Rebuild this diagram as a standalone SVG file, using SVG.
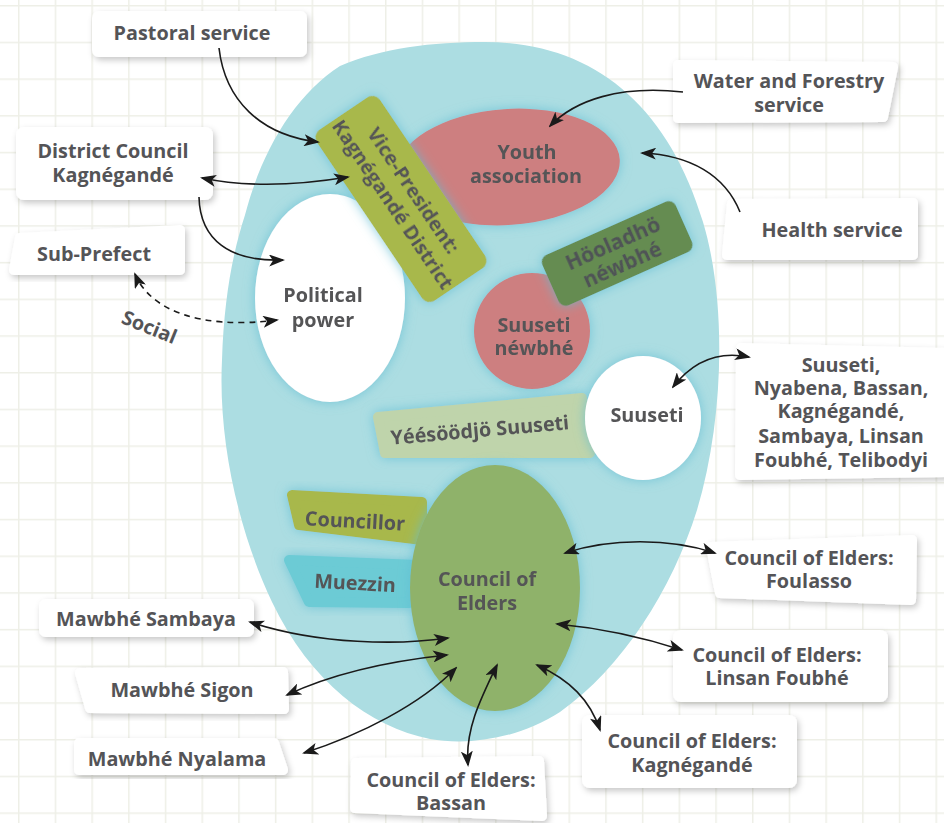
<svg xmlns="http://www.w3.org/2000/svg" width="944" height="823" viewBox="0 0 944 823">
<defs>
<pattern id="grid" patternUnits="userSpaceOnUse" x="18" y="5" width="36.7" height="36.7">
<path d="M0,0 V36.7 M0,0 H36.7" fill="none" stroke="#eeefe7" stroke-width="3"/>
</pattern>
<filter id="sh" x="-20%" y="-30%" width="140%" height="160%">
<feDropShadow dx="2" dy="3" stdDeviation="3" flood-color="#000" flood-opacity="0.22"/>
</filter>
<filter id="glow" x="-30%" y="-30%" width="160%" height="160%">
<feDropShadow dx="0" dy="0" stdDeviation="6" flood-color="#5fbdd3" flood-opacity="0.75"/>
</filter>
<marker id="ah" viewBox="0 0 16 12" refX="14" refY="6" markerWidth="16" markerHeight="12" markerUnits="userSpaceOnUse" orient="auto-start-reverse">
<path d="M0,0 L16,6 L0,12 L4,6 Z" fill="#1a1a1a"/>
</marker>
<style>
text{font-family:"Open Sans","DejaVu Sans",sans-serif;font-weight:700;font-size:19.8px;fill:#545457;text-anchor:middle}
.box{fill:#fff;stroke:#fff;stroke-width:10;stroke-linejoin:round;filter:url(#sh)}
.rbox{fill:#fff;filter:url(#sh)}
.in{filter:url(#glow)}
.c{fill:none;stroke:#1a1a1a;stroke-width:1.6}
.dash{stroke-dasharray:6 5}
</style>
</defs>
<rect width="944" height="823" fill="#fff"/>
<rect width="944" height="823" fill="url(#grid)"/>

<g id="blob">
<path d="M485,42 C590,42 667,102 703,222 C727,302 724,420 697,510 C672,590 622,668 560,712 C520,738 470,746 430,739 C370,727 310,682 272,602 C238,530 218,440 222,360 C224,300 232,255 245,215 C262,150 295,95 340,66 C382,48 432,42 485,42 Z" fill="#acdde2"/>
</g>

<g id="political-power" class="in">
<ellipse cx="330" cy="298" rx="75" ry="104" fill="#fff"/>
<text x="323" y="302">Political</text>
<text x="323" y="327">power</text>
</g>

<g id="youth-association" class="in">
<ellipse cx="508" cy="167" rx="112" ry="58" transform="rotate(-4 508 167)" fill="#cd7f80"/>
<text x="527" y="159">Youth</text>
<text x="526" y="183">association</text>
</g>

<g id="vice-president" class="in" transform="translate(401,199) rotate(56)">
<rect x="-103" y="-38" width="206" height="76" rx="9" fill="#a8b84c"/>
<text x="0" y="-8">Vice-President:</text>
<text x="0" y="17">Kagnégandé District</text>
</g>

<g id="suuseti-newbhe" class="in">
<circle cx="532" cy="331" r="58" fill="#cd7f80"/>
<text x="534" y="332">Suuseti</text>
<text x="534" y="355">néwbhé</text>
</g>

<g id="hooladho-newbhe" class="in" transform="translate(617,253) rotate(-24)">
<rect x="-73" y="-27" width="146" height="55" rx="8" fill="#658c51"/>
<text x="0" y="-3" style="font-size:21px;fill:#4f5256">Höoladhö</text>
<text x="0" y="20" style="font-size:21px;fill:#4f5256">néwbhé</text>
</g>

<g id="yeesoodjo-suuseti" class="in">
<polygon points="378,417 582,398 590,453 385,453" fill="#bfd4ab" stroke="#bfd4ab" stroke-width="10" stroke-linejoin="round"/>
<text x="480" y="437" transform="rotate(-5 480 432)">Yéésöödjö Suuseti</text>
</g>

<g id="suuseti" class="in">
<ellipse cx="643" cy="418" rx="58" ry="62" fill="#fff"/>
<text x="647" y="422">Suuseti</text>
</g>

<g id="councillor" class="in">
<polygon points="292,495 422,502 422,540 299,525" fill="#a8b84c" stroke="#a8b84c" stroke-width="10" stroke-linejoin="round"/>
<text x="355" y="528" transform="rotate(3 355 522)">Councillor</text>
</g>

<g id="muezzin" class="in">
<polygon points="289,560 418,565 409,603 309,602" fill="#6ccbd5" stroke="#6ccbd5" stroke-width="10" stroke-linejoin="round"/>
<text x="355" y="590" transform="rotate(3 355 584)">Muezzin</text>
</g>

<g id="council-of-elders" class="in">
<ellipse cx="495" cy="588" rx="85" ry="123" fill="#8fb26a"/>
<text x="487" y="586">Council of</text>
<text x="487" y="610">Elders</text>
</g>

<g id="pastoral-service">
<rect class="rbox" x="92" y="11" width="215" height="46" rx="7"/>
<text x="192" y="40">Pastoral service</text>
</g>
<g id="district-council">
<rect class="rbox" x="16" y="127" width="197" height="73" rx="8"/>
<text x="113" y="158">District Council</text>
<text x="113" y="182">Kagnégandé</text>
</g>
<g id="sub-prefect">
<polygon class="box" points="20,238 180,230 180,270 14,270"/>
<text x="94" y="261">Sub-Prefect</text>
</g>
<g id="water-forestry">
<polygon class="box" points="678,65 893,67 883,117 678,118"/>
<text x="789" y="88">Water and Forestry</text>
<text x="789" y="112">service</text>
</g>
<g id="health-service">
<polygon class="box" points="732,204 913,203 913,255 727,255"/>
<text x="832" y="237">Health service</text>
</g>
<g id="suuseti-list">
<polygon class="box" points="741,348 945,353 945,472 740,475"/>
<text x="841" y="372">Suuseti,</text>
<text x="841" y="395">Nyabena, Bassan,</text>
<text x="841" y="418">Kagnégandé,</text>
<text x="841" y="443">Sambaya, Linsan</text>
<text x="841" y="467">Foubhé, Telibodyi</text>
</g>
<g id="elders-foulasso">
<polygon class="box" points="711,547 912,540 911,600 720,593"/>
<text x="809" y="565">Council of Elders:</text>
<text x="809" y="588">Foulasso</text>
</g>
<g id="elders-linsan">
<rect class="rbox" x="673" y="630" width="215" height="72" rx="8"/>
<text x="777" y="662">Council of Elders:</text>
<text x="777" y="685">Linsan Foubhé</text>
</g>
<g id="elders-kagnegande">
<rect class="rbox" x="582" y="715" width="215" height="73" rx="8"/>
<text x="692" y="748">Council of Elders:</text>
<text x="692" y="772">Kagnégandé</text>
</g>
<g id="elders-bassan">
<polygon class="box" points="356,763 539,761 542,816 355,808"/>
<text x="451" y="787">Council of Elders:</text>
<text x="451" y="810">Bassan</text>
</g>
<g id="mawbhe-sambaya">
<rect class="rbox" x="39" y="599" width="215" height="38" rx="7"/>
<text x="146" y="626">Mawbhé Sambaya</text>
</g>
<g id="mawbhe-sigon">
<polygon class="box" points="80,673 283,672 284,709 90,708"/>
<text x="182" y="697">Mawbhé Sigon</text>
</g>
<g id="mawbhe-nyalama">
<polygon class="box" points="79,743 274,743 283,770 79,770"/>
<text x="177" y="766">Mawbhé Nyalama</text>
</g>

<g id="connectors">
<path class="c" d="M219,48 C225,100 260,135 318,142" marker-end="url(#ah)"/>
<path class="c" d="M202,178 C250,188 300,185 348,177" marker-start="url(#ah)" marker-end="url(#ah)"/>
<path class="c" d="M199,197 C200,240 230,262 283,260" marker-end="url(#ah)"/>
<path class="c dash" d="M135,274 C150,310 200,330 277,320" marker-start="url(#ah)" marker-end="url(#ah)"/>
<path class="c" d="M683,92 C620,85 575,100 550,126" marker-end="url(#ah)"/>
<path class="c" d="M740,212 C725,175 690,155 642,153" marker-end="url(#ah)"/>
<path class="c" d="M673,387 C690,365 715,350 749,357" marker-start="url(#ah)" marker-end="url(#ah)"/>
<path class="c" d="M565,553 C610,538 670,538 715,553" marker-start="url(#ah)" marker-end="url(#ah)"/>
<path class="c" d="M557,624 C600,628 645,638 682,650" marker-start="url(#ah)" marker-end="url(#ah)"/>
<path class="c" d="M537,665 C570,680 590,700 600,730" marker-start="url(#ah)" marker-end="url(#ah)"/>
<path class="c" d="M497,665 C480,700 465,730 468,765" marker-start="url(#ah)" marker-end="url(#ah)"/>
<path class="c" d="M250,622 C320,645 400,645 448,638" marker-start="url(#ah)" marker-end="url(#ah)"/>
<path class="c" d="M287,695 C340,670 400,660 447,655" marker-start="url(#ah)" marker-end="url(#ah)"/>
<path class="c" d="M304,753 C360,735 420,705 456,668" marker-start="url(#ah)" marker-end="url(#ah)"/>
<text x="149" y="334" transform="rotate(22 149 328)">Social</text>
</g>
</svg>
